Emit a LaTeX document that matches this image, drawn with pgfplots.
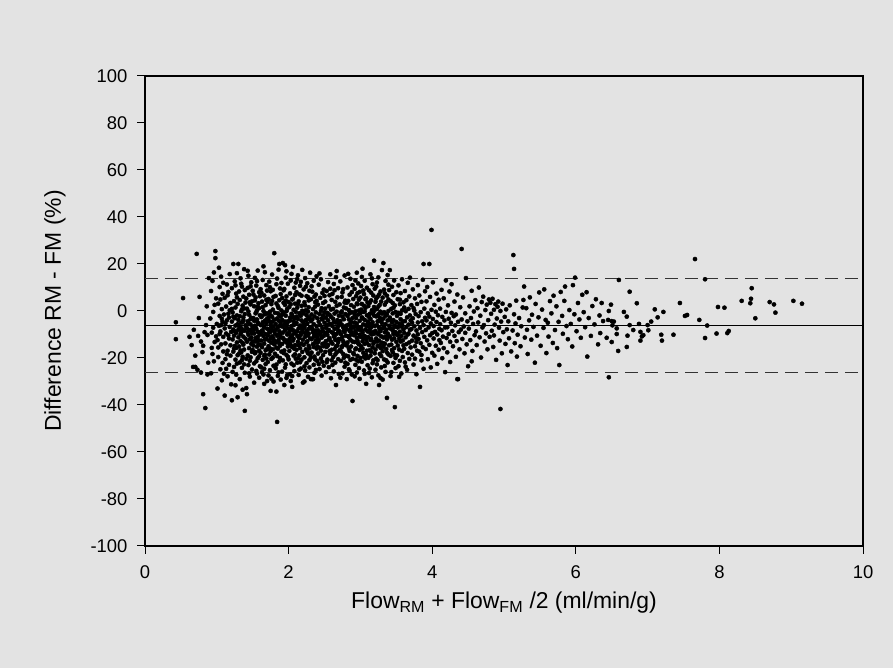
\documentclass[border=0pt]{standalone}
\usepackage{fontspec}
\setmainfont{Liberation Sans}
\usepackage{pgfplots}
\pgfplotsset{compat=1.18}
\definecolor{bgc}{RGB}{227,227,227}
\begin{document}
\begin{tikzpicture}[x=1bp,y=1bp]
\fill[bgc] (0,0) rectangle (893,668);
\begin{axis}[
  at={(145bp,122bp)}, anchor=south west,
  scale only axis, width=718bp, height=470bp,
  xmin=0, xmax=10, ymin=-100, ymax=100,
  xtick={0,2,4,6,8,10}, ytick={-100,-80,-60,-40,-20,0,20,40,60,80,100},
  xtick pos=bottom, ytick pos=left,
  tick align=outside, major tick length=8bp,
  tick style={black, line width=1bp},
  axis line style={black, line width=1.2bp},
  ticklabel style={font=\fontsize{18.5}{21}\selectfont},
  yticklabel style={xshift=-6bp},
  xticklabel style={yshift=-8bp},
  /pgf/number format/assume math mode=true,
  xlabel={Flow\textsubscript{RM} + Flow\textsubscript{FM} /2 (ml/min/g)},
  ylabel={Difference RM - FM (\%)},
  label style={font=\fontsize{23}{27}\selectfont},
  xlabel style={at={(axis description cs:0.5,-0.1330)}, anchor=base},
  ylabel style={at={(axis description cs:-0.1253,0.5)}, anchor=center},
  clip=true,
]
\addplot[black, line width=0.9bp] coordinates {(0,-6.2) (10,-6.2)};
\addplot[black!80, line width=1.2bp, dash pattern=on 13bp off 7bp] coordinates {(0,13.8) (10,13.8)};
\addplot[black!80, line width=1.2bp, dash pattern=on 13bp off 7bp] coordinates {(0,-26.2) (10,-26.2)};
\addplot[only marks, mark=*, mark size=2.1bp, mark options={draw=none, fill=black}] coordinates {
(0.43,-4.8) (0.43,-12) (0.53,5.5) (0.65,-14.5) (0.67,-23.8) (0.72,24.3) (0.81,-35.4) (0.84,-41.3) (0.62,-11) (0.70,-19) (0.68,-8) (0.75,-3) (0.78,-13) (0.80,-17.5) (0.73,-25) (0.83,-9) (0.86,2) (0.88,-22) (0.76,6) (0.85,-6) (0.89,14) (0.87,-27)
(0.74,-10.6) (0.81,-14.8) (0.70,-23.8) (0.78,-26.2) (0.87,-10.2)
(0.91,-3.2) (0.92,8.5) (0.93,-15.7) (0.94,12.8) (0.95,-7.1) (0.96,-21.4) (0.97,2.6) (0.98,22.5) (0.98,25.5) (0.99,-10.8) (0.95,-0.4) (0.92,-26.5) (0.97,-13.2) (0.99,5.4) (0.94,-18.3) (1.00,-5.5) (0.96,16.4) (0.93,-9.2)
(1.01,-12.4) (1.02,3.1) (1.02,-19.6) (1.03,-6.3) (1.04,10.2) (1.04,-2.1) (1.05,-24.8) (1.05,-8.7) (1.06,14.6) (1.06,-14.2) (1.07,0.8) (1.07,-29.5) (1.08,-4.6) (1.08,7.3) (1.09,-11.0) (1.09,-17.2) (1.10,-1.5) (1.03,18.4) (1.01,-33.0) (1.05,4.9) (1.08,-22.1) (1.04,-9.8) (1.06,-6.0) (1.09,12.0) (1.02,-15.5) (1.07,-3.3) (1.10,-26.7)
(1.11,-7.4) (1.11,5.6) (1.12,-13.8) (1.12,-20.5) (1.13,1.9) (1.13,-9.6) (1.14,11.3) (1.14,-4.0) (1.15,-16.9) (1.15,-27.8) (1.16,8.1) (1.16,-1.2) (1.17,-11.7) (1.17,-22.9) (1.18,15.7) (1.18,-6.8) (1.19,3.4) (1.19,-14.6) (1.20,-8.9) (1.20,-31.2) (1.12,-5.3) (1.14,-18.4) (1.16,-10.3) (1.18,0.3) (1.13,-24.6) (1.15,6.7) (1.17,-2.8) (1.19,-19.0) (1.11,-36.0) (1.21,-38.0)
(1.21,-4.5) (1.21,9.7) (1.22,-12.1) (1.22,-0.6) (1.23,20.0) (1.23,-7.9) (1.23,-17.3) (1.24,4.2) (1.24,-10.5) (1.24,-23.8) (1.25,12.6) (1.25,-3.1) (1.25,-14.9) (1.26,-6.2) (1.26,1.5) (1.26,-20.7) (1.27,7.4) (1.27,-9.3) (1.27,-27.1) (1.28,-1.9) (1.28,-13.4) (1.28,16.1) (1.29,-5.6) (1.29,-18.8) (1.29,3.0) (1.30,20.0) (1.30,-11.2) (1.30,-8.0) (1.22,-25.9) (1.24,-16.0) (1.26,10.9) (1.28,-22.4) (1.23,-2.4) (1.25,-8.6) (1.27,-15.7) (1.29,-36.7) (1.21,0.9) (1.26,-31.6) (1.28,5.8) (1.30,-3.8)
(1.31,-6.5) (1.31,8.3) (1.31,-15.1) (1.32,-2.2) (1.32,-21.9) (1.32,4.7) (1.33,-9.9) (1.33,13.9) (1.33,-12.8) (1.34,-0.1) (1.34,-17.6) (1.34,-5.0) (1.35,10.4) (1.35,-24.2) (1.35,-7.7) (1.36,2.3) (1.36,-13.6) (1.36,-19.5) (1.37,6.1) (1.37,-3.9) (1.37,-10.9) (1.38,17.8) (1.38,-8.4) (1.38,-16.4) (1.39,-42.5) (1.39,-1.3) (1.39,-26.3) (1.40,3.6) (1.40,-11.8) (1.32,-29.0) (1.34,11.6) (1.36,-4.7) (1.38,-22.7) (1.33,-6.9) (1.35,0.7) (1.37,-14.3) (1.39,8.9) (1.31,-18.1) (1.40,-6.1) (1.36,-33.5) (1.34,-9.1) (1.38,1.1) (1.33,-16.8) (1.35,-20.9) (1.37,-2.7)
(1.41,-7.2) (1.41,5.3) (1.41,-32.8) (1.42,-35.4) (1.42,-13.1) (1.42,1.0) (1.43,-18.9) (1.43,9.8) (1.43,-4.4) (1.44,-10.1) (1.44,15.0) (1.44,-23.0) (1.45,-1.6) (1.45,-15.8) (1.45,6.9) (1.46,-8.1) (1.46,-12.0) (1.46,-27.9) (1.47,2.8) (1.47,-5.7) (1.47,-19.7) (1.48,12.2) (1.48,-2.9) (1.48,-14.0) (1.49,-9.4) (1.49,4.1) (1.49,-24.9) (1.50,-6.7) (1.50,-16.6) (1.50,8.6) (1.42,-7.3) (1.44,-0.2) (1.46,-21.2) (1.48,-11.2) (1.43,17.1) (1.45,-26.5) (1.47,-3.5) (1.49,-17.4) (1.41,-20.3) (1.46,3.7) (1.48,-7.9) (1.50,-12.9) (1.44,-5.1) (1.47,10.5) (1.43,-9.0)
(1.51,-3.0) (1.51,-14.7) (1.51,7.0) (1.52,-9.6) (1.52,-22.3) (1.52,2.0) (1.53,14.1) (1.53,-6.3) (1.53,-18.0) (1.54,-1.0) (1.54,-11.5) (1.54,5.8) (1.55,-25.5) (1.55,-7.6) (1.55,10.8) (1.56,-15.2) (1.56,-3.6) (1.56,0.4) (1.57,-20.1) (1.57,-8.8) (1.57,17.2) (1.58,-12.4) (1.58,3.3) (1.58,-5.4) (1.59,-28.4) (1.59,-16.9) (1.59,8.0) (1.60,-10.0) (1.60,-1.8) (1.60,-23.5) (1.52,-4.2) (1.54,-17.5) (1.56,12.7) (1.58,-9.0) (1.53,-13.0) (1.55,-0.5) (1.57,-4.9) (1.59,-19.3) (1.51,-8.1) (1.53,4.5) (1.55,-21.4) (1.57,-11.0) (1.59,1.2) (1.52,-30.5) (1.54,-6.9) (1.56,-26.6) (1.58,-14.1) (1.60,6.3) (1.55,-12.8) (1.57,1.9)
(1.61,-6.0) (1.61,-17.8) (1.61,9.3) (1.62,-2.6) (1.62,-12.6) (1.62,-24.0) (1.63,4.0) (1.63,-8.3) (1.63,-15.4) (1.64,13.2) (1.64,-4.8) (1.64,-20.8) (1.65,0.0) (1.65,-10.7) (1.65,-27.0) (1.66,6.6) (1.66,-7.0) (1.66,-13.9) (1.67,-1.4) (1.67,-18.6) (1.67,16.5) (1.68,-9.8) (1.68,2.5) (1.68,-22.6) (1.69,-5.2) (1.69,-11.9) (1.69,11.0) (1.70,-16.2) (1.70,-3.3) (1.70,-29.8) (1.62,7.8) (1.64,-8.7) (1.66,-19.1) (1.68,-0.9) (1.63,-26.0) (1.65,-6.4) (1.67,-12.2) (1.69,4.8) (1.61,-14.5) (1.64,1.6) (1.66,-24.6) (1.68,-16.7) (1.70,-7.5) (1.62,-9.5) (1.65,19.0) (1.67,-4.1) (1.69,-20.2) (1.63,-2.0) (1.66,-31.0) (1.70,8.7)
(1.71,-10.4) (1.71,-1.1) (1.71,-21.7) (1.72,5.1) (1.72,-7.8) (1.72,-15.0) (1.73,12.5) (1.73,-4.3) (1.73,-12.7) (1.74,-25.2) (1.74,-0.3) (1.74,-9.1) (1.75,8.4) (1.75,-17.1) (1.75,-5.9) (1.76,-13.5) (1.76,2.9) (1.76,-28.8) (1.77,-2.5) (1.77,-8.2) (1.77,15.5) (1.78,-19.8) (1.78,-11.3) (1.78,0.6) (1.79,-6.6) (1.79,6.0) (1.79,-23.3) (1.80,-14.2) (1.80,-3.7) (1.80,24.6) (1.72,-27.4) (1.74,10.1) (1.76,-6.8) (1.78,-16.3) (1.73,-18.5) (1.75,-1.9) (1.77,-10.8) (1.79,-30.0) (1.71,3.9) (1.73,-8.9) (1.75,-34.0) (1.77,4.3) (1.79,-12.1) (1.72,-2.8) (1.74,-15.9) (1.76,-20.4) (1.78,9.0) (1.80,-8.5) (1.75,-11.6) (1.77,-4.6)
(1.81,-9.7) (1.81,-0.8) (1.81,-18.2) (1.82,6.4) (1.82,-13.3) (1.82,-5.5) (1.83,-34.3) (1.83,11.4) (1.83,-22.8) (1.84,-47.2) (1.84,-3.2) (1.84,-10.6) (1.85,2.1) (1.85,-16.0) (1.85,-7.0) (1.86,17.6) (1.86,-26.1) (1.86,-12.3) (1.87,-1.7) (1.87,-8.6) (1.87,4.6) (1.88,-20.0) (1.88,-14.8) (1.88,9.6) (1.89,-4.9) (1.89,-11.1) (1.89,-29.2) (1.90,0.2) (1.90,-17.3) (1.90,-6.5) (1.82,-24.4) (1.84,13.8) (1.86,-4.0) (1.88,-9.9) (1.83,-15.6) (1.85,-1.0) (1.87,-21.5) (1.89,7.2) (1.81,-12.9) (1.83,3.2) (1.85,-27.6) (1.87,-13.7) (1.89,-2.3) (1.82,-8.0) (1.84,-19.2) (1.86,1.3) (1.88,-6.1) (1.90,11.9) (1.85,-10.2) (1.87,20.0)
(1.91,-3.8) (1.91,-14.0) (1.91,5.5) (1.92,20.4) (1.92,-9.2) (1.92,-21.0) (1.93,-0.7) (1.93,-11.9) (1.93,8.8) (1.94,-31.5) (1.94,-5.8) (1.94,-16.8) (1.95,2.6) (1.95,-8.4) (1.95,-24.1) (1.96,14.2) (1.96,-2.0) (1.96,-12.5) (1.97,-18.7) (1.97,-6.9) (1.97,6.2) (1.98,-10.0) (1.98,-27.3) (1.98,0.9) (1.99,-4.4) (1.99,-15.1) (1.99,11.6) (2.00,-7.5) (2.00,-20.6) (2.00,3.8) (1.92,-1.4) (1.94,9.4) (1.96,-22.7) (1.98,-13.6) (1.93,-17.9) (1.95,-4.5) (1.97,16.9) (1.99,-9.7) (1.91,-25.8) (1.93,3.5) (1.95,-13.0) (1.97,-0.1) (1.99,-19.5) (1.92,-11.4) (1.94,-7.1) (1.96,4.4) (1.98,-5.2) (2.00,-12.7) (1.95,19.5) (1.97,-28.5)
(2.01,-9.0) (2.01,1.7) (2.01,-17.0) (2.02,7.5) (2.02,-4.1) (2.02,-13.8) (2.03,-29.8) (2.03,-10.9) (2.03,13.0) (2.04,-1.2) (2.04,-22.4) (2.04,-6.4) (2.05,-32.3) (2.05,4.9) (2.05,-15.4) (2.06,-8.1) (2.06,-2.6) (2.06,18.8) (2.07,-19.0) (2.07,-11.8) (2.07,0.5) (2.08,9.9) (2.08,-5.7) (2.08,-25.6) (2.09,-14.5) (2.09,-3.0) (2.09,6.8) (2.10,-8.8) (2.10,-20.3) (2.10,-0.4) (2.02,-26.9) (2.04,15.8) (2.06,-12.6) (2.08,-16.1) (2.03,-7.7) (2.05,-1.9) (2.07,-23.1) (2.09,3.1) (2.01,-12.0) (2.03,2.9) (2.05,-10.3) (2.07,-6.0) (2.09,-18.4) (2.02,-2.8) (2.04,-14.9) (2.06,5.2) (2.08,-9.4) (2.10,12.1) (2.05,-27.7) (2.07,-4.3)
(2.11,-5.1) (2.11,-16.5) (2.11,8.0) (2.12,-10.5) (2.12,1.4) (2.12,-22.0) (2.13,-3.4) (2.13,-13.1) (2.13,15.2) (2.14,-7.4) (2.14,-27.2) (2.14,4.1) (2.15,-0.9) (2.15,-18.9) (2.15,-11.5) (2.16,10.7) (2.16,-6.2) (2.16,-15.8) (2.17,-24.5) (2.17,-2.1) (2.17,-9.3) (2.18,6.5) (2.18,-13.9) (2.18,-20.7) (2.19,0.1) (2.19,-7.9) (2.19,17.5) (2.20,-30.5) (2.20,-4.7) (2.20,-12.2) (2.12,-8.6) (2.14,-14.6) (2.16,-1.5) (2.18,-4.0) (2.13,3.0) (2.15,-25.0) (2.17,12.4) (2.19,-17.4) (2.11,-2.4) (2.13,-20.1) (2.15,7.1) (2.17,-10.2) (2.19,-6.7) (2.12,13.6) (2.14,-11.3) (2.16,-21.8) (2.18,2.2) (2.20,-9.1)
(2.21,-14.4) (2.21,-1.0) (2.21,9.2) (2.22,-7.1) (2.22,-19.7) (2.22,3.7) (2.23,-11.0) (2.23,-25.3) (2.23,14.0) (2.24,-3.9) (2.24,-16.3) (2.24,0.3) (2.25,-8.5) (2.25,6.3) (2.25,-22.2) (2.26,-12.9) (2.26,-5.3) (2.26,11.8) (2.27,-18.0) (2.27,-0.2) (2.27,-28.0) (2.28,-9.6) (2.28,4.5) (2.28,-14.8) (2.29,-2.7) (2.29,-20.9) (2.29,8.6) (2.30,-6.9) (2.30,-11.7) (2.30,16.3) (2.22,-30.0) (2.24,-9.8) (2.26,-17.2) (2.28,1.6) (2.23,-5.9) (2.25,-13.3) (2.27,5.9) (2.29,-24.0) (2.21,-6.3) (2.23,2.4) (2.25,-1.8) (2.27,-10.4) (2.29,-15.9) (2.22,-23.6) (2.24,10.3) (2.26,-3.5) (2.28,-7.6) (2.30,-18.6)
(2.31,-4.3) (2.31,-29.0) (2.31,5.0) (2.32,-12.0) (2.32,-1.5) (2.32,-17.7) (2.33,-29.0) (2.33,8.2) (2.33,-7.8) (2.34,-29.0) (2.34,-14.1) (2.34,0.8) (2.35,-22.9) (2.35,-5.6) (2.35,12.9) (2.36,-10.2) (2.36,-2.3) (2.36,-19.4) (2.37,3.8) (2.37,-13.5) (2.37,-8.3) (2.38,-25.1) (2.38,7.0) (2.38,-0.6) (2.39,-16.0) (2.39,-6.5) (2.39,14.8) (2.40,-11.2) (2.40,-3.1) (2.40,-21.3) (2.32,10.5) (2.34,-9.1) (2.36,-26.3) (2.38,-12.6) (2.33,-3.6) (2.35,-15.3) (2.37,1.9) (2.39,-9.8) (2.31,-19.8) (2.35,-11.0) (2.37,-20.6) (2.39,4.3) (2.32,-6.9) (2.36,6.1) (2.40,-15.0)
(2.41,-8.2) (2.41,2.7) (2.41,-18.1) (2.42,-4.6) (2.42,-12.4) (2.42,11.2) (2.43,-24.7) (2.43,-1.3) (2.43,-9.5) (2.44,5.6) (2.44,-15.6) (2.44,-6.0) (2.45,-20.2) (2.45,0.0) (2.45,13.5) (2.46,-11.4) (2.46,-3.2) (2.46,-27.5) (2.47,7.7) (2.47,-14.0) (2.47,-7.3) (2.48,-1.9) (2.48,-18.8) (2.48,3.4) (2.49,-10.6) (2.49,-23.3) (2.49,9.1) (2.50,-5.0) (2.50,-13.7) (2.50,-0.5) (2.42,-22.6) (2.44,-10.1) (2.46,1.2) (2.48,-8.7) (2.43,16.0) (2.45,-16.9) (2.47,-3.6) (2.49,-15.0) (2.41,-13.2) (2.45,-8.9) (2.47,-21.6) (2.50,6.4)
(2.51,-9.3) (2.51,-17.4) (2.51,4.0) (2.52,-2.9) (2.52,-12.8) (2.52,-26.0) (2.53,8.5) (2.53,-6.1) (2.53,-15.3) (2.54,-0.8) (2.54,-20.7) (2.54,-10.2) (2.55,12.3) (2.55,-4.0) (2.55,-14.4) (2.56,2.0) (2.56,-8.0) (2.56,-23.9) (2.57,-1.6) (2.57,-11.6) (2.57,6.7) (2.58,-18.2) (2.58,-5.5) (2.58,15.6) (2.59,-13.0) (2.59,-28.6) (2.59,-2.5) (2.60,-9.0) (2.60,4.7) (2.60,-16.5) (2.52,-7.2) (2.54,-1.4) (2.56,-12.1) (2.58,9.5) (2.53,-21.8) (2.55,-8.6) (2.57,-17.0) (2.59,0.6) (2.51,1.0) (2.54,-14.9) (2.56,-5.8) (2.60,-21.0)
(2.61,-6.4) (2.61,-13.9) (2.61,7.3) (2.62,-3.3) (2.62,-19.6) (2.62,0.9) (2.63,-10.8) (2.63,-25.7) (2.63,11.5) (2.64,-7.6) (2.64,-1.1) (2.64,-16.2) (2.65,3.9) (2.65,-12.3) (2.65,-22.0) (2.66,-31.5) (2.66,-5.0) (2.66,14.4) (2.67,-9.7) (2.67,-17.6) (2.67,-0.3) (2.68,5.8) (2.68,-14.7) (2.68,-3.9) (2.69,-20.5) (2.69,-8.2) (2.69,9.7) (2.70,-11.9) (2.70,-2.0) (2.70,-26.8) (2.62,-9.4) (2.64,8.8) (2.66,-15.0) (2.68,-6.9) (2.63,-4.7) (2.65,-18.5) (2.67,2.2) (2.69,-13.3) (2.61,-23.0) (2.64,-11.0) (2.67,17.0) (2.70,-6.1)
(2.71,-8.7) (2.71,2.8) (2.71,-16.7) (2.72,-4.3) (2.72,-12.0) (2.72,12.6) (2.73,-21.2) (2.73,-0.7) (2.73,-9.9) (2.74,6.0) (2.74,-15.4) (2.74,-5.8) (2.75,-26.5) (2.75,-2.4) (2.75,-11.1) (2.76,9.3) (2.76,-7.0) (2.76,-18.3) (2.77,1.5) (2.77,-13.6) (2.77,-3.5) (2.78,-23.7) (2.78,-8.9) (2.78,15.1) (2.79,-1.3) (2.79,-14.3) (2.79,4.4) (2.80,-19.0) (2.80,-6.3) (2.80,-10.5) (2.72,-28.4) (2.74,-0.2) (2.76,-12.8) (2.78,3.6) (2.73,-17.2) (2.75,7.9) (2.77,-8.4) (2.79,-22.0) (2.71,-5.2) (2.75,-14.8) (2.77,-19.9) (2.80,1.1)
(2.81,-29.0) (2.81,-7.7) (2.81,3.5) (2.82,-13.4) (2.82,-2.1) (2.82,10.0) (2.83,-19.3) (2.83,-5.9) (2.83,-10.7) (2.84,0.4) (2.84,-16.0) (2.84,-24.8) (2.85,6.9) (2.85,-8.5) (2.85,-1.0) (2.86,-12.2) (2.86,13.7) (2.86,-20.8) (2.87,-4.6) (2.87,-15.1) (2.87,2.5) (2.88,-9.1) (2.88,-27.0) (2.88,8.0) (2.89,-38.3) (2.89,-3.0) (2.89,-13.0) (2.90,-17.9) (2.90,5.1) (2.90,-6.6) (2.82,-22.5) (2.84,-11.2) (2.86,-5.3) (2.88,-0.5) (2.83,4.3) (2.85,-17.0) (2.87,-10.0) (2.89,11.0) (2.81,-14.7) (2.83,15.8) (2.85,-25.5) (2.87,-7.2) (2.89,-20.4) (2.84,-3.6) (2.86,-8.0)
(2.91,-10.3) (2.91,1.8) (2.91,-18.4) (2.92,-4.9) (2.92,9.4) (2.92,-13.2) (2.93,-0.1) (2.93,-22.9) (2.93,-8.6) (2.94,6.3) (2.94,-15.9) (2.94,-3.0) (2.95,16.3) (2.95,-11.4) (2.95,-26.2) (2.96,-6.7) (2.96,2.9) (2.96,-19.1) (2.97,-1.5) (2.97,-13.8) (2.97,11.7) (2.98,-8.0) (2.98,-24.3) (2.98,4.8) (2.99,-16.6) (2.99,-4.2) (2.99,8.1) (3.00,-11.0) (3.00,-0.9) (3.00,-20.0) (2.92,-27.8) (2.94,-9.6) (2.96,-12.7) (2.98,0.2) (2.93,13.0) (2.95,-5.4) (2.97,-21.4) (2.99,-10.1) (2.91,-7.1) (2.93,-16.3) (2.95,3.2) (2.97,-7.5) (2.99,-28.9) (2.92,-1.6) (2.94,-20.7) (2.96,7.6) (2.98,-14.2) (3.00,5.7)
(3.01,-6.8) (3.01,-15.0) (3.01,10.6) (3.02,-2.7) (3.02,-21.6) (3.02,3.0) (3.03,-9.2) (3.03,-12.9) (3.03,18.0) (3.04,-0.4) (3.04,-17.8) (3.04,-5.7) (3.05,7.2) (3.05,-25.3) (3.05,-10.6) (3.06,-3.8) (3.06,12.9) (3.06,-14.0) (3.07,-7.9) (3.07,1.3) (3.07,-20.2) (3.08,-31.0) (3.08,-12.1) (3.08,5.4) (3.09,-1.8) (3.09,-16.9) (3.09,9.9) (3.10,-8.7) (3.10,-23.1) (3.10,-4.5) (3.02,14.5) (3.04,-11.5) (3.06,-26.7) (3.08,-6.2) (3.03,-3.1) (3.05,-19.4) (3.07,5.0) (3.09,-13.6) (3.01,0.6) (3.03,-16.0) (3.05,2.2) (3.07,-10.9) (3.09,-6.0) (3.02,-8.3) (3.04,8.7) (3.06,-0.2) (3.08,-18.7) (3.10,3.6)
(3.11,-11.1) (3.11,2.1) (3.11,-19.9) (3.12,-5.3) (3.12,-14.5) (3.12,8.8) (3.13,-1.2) (3.13,-24.5) (3.13,-8.1) (3.14,15.6) (3.14,-12.4) (3.14,-3.4) (3.15,4.5) (3.15,-17.3) (3.15,-7.0) (3.16,-28.2) (3.16,0.3) (3.16,-10.0) (3.17,11.4) (3.17,-15.5) (3.17,-4.8) (3.18,-21.0) (3.18,6.6) (3.18,-8.9) (3.19,21.4) (3.19,-13.1) (3.19,-2.0) (3.20,-6.4) (3.20,-18.0) (3.20,9.5) (3.12,-26.4) (3.14,-9.4) (3.16,13.9) (3.18,-0.6) (3.13,3.5) (3.15,-11.9) (3.17,-22.2) (3.19,1.7) (3.11,-6.6) (3.13,-16.7) (3.15,7.8) (3.17,-1.0) (3.19,-9.7) (3.12,-2.5) (3.14,-19.0) (3.16,-5.5) (3.18,-13.9) (3.20,0.5)
(3.21,-8.5) (3.21,3.9) (3.21,-16.4) (3.22,-2.3) (3.22,-11.7) (3.22,10.4) (3.23,-22.7) (3.23,-6.0) (3.23,0.8) (3.24,-14.9) (3.24,6.1) (3.24,-9.5) (3.25,-1.4) (3.25,-27.4) (3.25,14.3) (3.26,-31.5) (3.26,-4.2) (3.26,-12.6) (3.27,2.6) (3.27,-18.3) (3.27,-7.7) (3.28,8.3) (3.28,-0.3) (3.28,-15.7) (3.29,-10.8) (3.29,-24.0) (3.29,4.0) (3.30,-5.1) (3.30,-13.5) (3.30,17.4) (3.22,-20.3) (3.24,-4.4) (3.26,7.0) (3.28,-8.6) (3.23,12.1) (3.25,-9.9) (3.27,-2.9) (3.29,-19.2) (3.21,-25.0) (3.23,-13.0) (3.25,1.9) (3.27,-14.6) (3.29,-3.7) (3.22,5.3) (3.24,-20.9) (3.26,-7.1) (3.28,-28.5) (3.30,-1.1)
(3.31,-7.3) (3.31,-17.1) (3.31,5.7) (3.32,20.4) (3.32,-3.2) (3.32,-11.3) (3.33,9.1) (3.33,-20.6) (3.33,-0.5) (3.34,-9.1) (3.34,-14.0) (3.34,2.7) (3.35,-5.6) (3.35,-25.9) (3.35,12.8) (3.36,-1.7) (3.36,-16.2) (3.36,-8.0) (3.37,-37.0) (3.37,6.5) (3.37,-12.1) (3.38,-4.0) (3.38,-21.9) (3.38,15.3) (3.39,-10.4) (3.39,0.0) (3.39,-18.5) (3.40,-6.3) (3.40,8.9) (3.40,-14.6) (3.32,-15.2) (3.34,-23.4) (3.36,3.8) (3.38,-9.6) (3.33,-6.7) (3.35,-11.0) (3.37,-1.3) (3.39,4.9) (3.31,-29.2) (3.33,-13.8) (3.35,-2.0) (3.37,-17.7) (3.39,11.2) (3.34,7.5) (3.36,-21.0)
(3.41,17.4) (3.41,-2.8) (3.41,-10.9) (3.42,-19.1) (3.42,4.2) (3.42,-7.5) (3.43,-14.3) (3.43,0.9) (3.43,-26.0) (3.44,10.3) (3.44,-5.0) (3.44,-12.2) (3.45,-1.0) (3.45,-17.5) (3.45,-8.4) (3.46,6.8) (3.46,-22.1) (3.46,-3.9) (3.47,-11.6) (3.47,13.0) (3.47,-15.8) (3.48,-40.9) (3.48,-6.2) (3.48,2.4) (3.49,-9.0) (3.49,-20.0) (3.49,-0.4) (3.50,-13.1) (3.50,8.0) (3.50,-4.7) (3.42,-27.7) (3.44,-16.6) (3.46,-9.8) (3.48,-18.7) (3.43,-4.1) (3.45,3.4) (3.47,-6.9) (3.49,-24.3) (3.41,-7.2) (3.46,1.4)
(3.51,-10.0) (3.51,-2.1) (3.51,-18.9) (3.52,5.0) (3.52,-14.7) (3.52,-7.0) (3.53,-23.5) (3.53,-0.8) (3.53,10.9) (3.54,-11.8) (3.54,-5.4) (3.54,-16.4) (3.55,2.9) (3.55,-8.8) (3.55,-21.2) (3.56,-3.5) (3.56,-13.0) (3.56,7.6) (3.57,-26.6) (3.57,-6.6) (3.57,-10.6) (3.58,0.3) (3.58,-17.0) (3.58,13.5) (3.59,-4.5) (3.59,-12.5) (3.59,-19.6) (3.60,-7.8) (3.60,3.7) (3.52,-10.2) (3.54,-28.0) (3.56,-1.2) (3.58,-6.0) (3.60,-14.6) (3.55,4.8)
(3.61,-9.3) (3.61,1.5) (3.61,-16.1) (3.62,-4.3) (3.62,-21.9) (3.62,8.5) (3.63,-11.2) (3.63,-0.1) (3.64,-14.1) (3.64,-6.8) (3.64,4.6) (3.65,-25.0) (3.65,-2.7) (3.66,-10.0) (3.66,12.0) (3.66,-17.9) (3.67,-5.8) (3.67,0.9) (3.68,-13.4) (3.68,-20.4) (3.68,6.2) (3.69,-8.0) (3.69,-1.9) (3.70,-15.5) (3.70,-4.0) (3.63,-23.7) (3.67,-9.6) (3.69,14.2)
(3.71,-7.7) (3.71,2.5) (3.72,-12.6) (3.72,-18.6) (3.73,-3.1) (3.73,9.2) (3.74,-10.5) (3.74,-22.8) (3.75,0.2) (3.75,-6.5) (3.76,-15.0) (3.76,5.4) (3.77,-1.3) (3.77,-11.4) (3.78,-26.9) (3.78,-8.3) (3.79,3.0) (3.79,-16.9) (3.80,-4.9) (3.80,11.0) (3.72,-5.0) (3.74,1.2) (3.76,-20.3) (3.78,-13.2) (3.80,-9.9)
(3.81,-11.9) (3.81,-2.2) (3.82,6.6) (3.82,-17.3) (3.83,-32.3) (3.83,-7.2) (3.84,-0.5) (3.84,-13.7) (3.85,-21.0) (3.85,3.9) (3.86,-9.0) (3.86,-4.4) (3.87,13.3) (3.87,-15.4) (3.88,20.0) (3.88,-6.0) (3.88,-24.6) (3.89,1.0) (3.89,-11.0) (3.90,-2.9) (3.85,-18.7) (3.90,8.4)
(3.91,-8.1) (3.91,-16.2) (3.92,4.1) (3.92,-4.0) (3.93,-12.5) (3.93,10.2) (3.94,-20.5) (3.94,-1.0) (3.95,-7.0) (3.96,20.0) (3.96,-14.4) (3.96,-2.4) (3.97,6.0) (3.97,-10.3) (3.98,-24.0) (3.98,-5.3) (3.99,34.5) (3.99,0.5) (4.00,-9.4) (4.00,-17.8)
(4.01,-3.4) (4.01,12.2) (4.02,-11.7) (4.02,-6.4) (4.03,2.6) (4.03,-19.0) (4.04,-8.9) (4.05,-0.3) (4.05,-14.8) (4.06,7.4) (4.06,-4.7) (4.07,-22.5) (4.07,-10.0) (4.08,-1.8) (4.09,-16.5) (4.09,4.8) (4.10,-7.6) (4.10,-12.4)
(4.11,-5.6) (4.11,1.0) (4.12,-13.6) (4.13,9.0) (4.13,-8.2) (4.14,-20.1) (4.14,-2.5) (4.15,-10.9) (4.16,5.4) (4.16,-15.8) (4.17,-4.0) (4.18,-26.0) (4.18,-7.0) (4.19,-0.4) (4.19,13.0) (4.20,-11.5)
(4.21,-6.9) (4.21,-17.6) (4.22,2.4) (4.23,-9.8) (4.23,-3.3) (4.24,8.3) (4.25,-13.1) (4.25,-21.7) (4.26,-5.0) (4.27,-0.8) (4.27,11.4) (4.28,-8.5) (4.29,-15.0) (4.30,-2.2)
(4.31,-10.6) (4.31,4.0) (4.32,-6.1) (4.33,-19.5) (4.33,-1.5) (4.34,-12.8) (4.35,-29.0) (4.35,7.0) (4.36,-4.6) (4.36,-29.0) (4.37,-9.0) (4.38,-16.3) (4.39,1.6) (4.40,-7.9)
(4.41,26.4) (4.41,-3.6) (4.42,-11.9) (4.43,5.8) (4.44,-6.6) (4.45,-18.0) (4.46,-1.0) (4.46,-9.3) (4.47,14.0) (4.48,-14.2) (4.49,-4.4) (4.50,-23.5)
(4.51,-7.5) (4.52,2.0) (4.53,-12.4) (4.54,-3.0) (4.55,8.6) (4.56,-17.0) (4.57,-5.5) (4.58,-0.2) (4.59,-10.3) (4.60,4.6) (4.55,-21.4)
(4.61,-8.7) (4.62,-14.5) (4.63,1.2) (4.64,-4.9) (4.65,10.0) (4.66,-11.2) (4.67,-2.0) (4.68,-19.8) (4.69,3.8) (4.70,-7.0)
(4.71,6.1) (4.72,-6.0) (4.73,-13.0) (4.74,0.4) (4.75,-9.5) (4.76,2.7) (4.77,-16.3) (4.78,-3.9) (4.79,4.9) (4.80,-11.0)
(4.81,3.5) (4.82,-1.2) (4.83,-8.4) (4.84,5.2) (4.85,-15.3) (4.86,0.5) (4.87,-5.8) (4.88,2.9) (4.89,-20.8) (4.90,-3.2) (4.86,-10.4)
(4.91,1.8) (4.92,4.0) (4.93,-7.1) (4.94,-12.6) (4.95,-41.7) (4.95,0.0) (4.96,-4.5) (4.97,-18.0) (4.98,3.1) (4.99,-9.0)
(5.01,-2.5) (5.02,-14.0) (5.03,0.7) (5.04,-7.8) (5.05,-23.0) (5.06,-4.4) (5.07,-11.6) (5.08,2.4) (5.10,-17.2)
(5.12,-8.3) (5.13,23.8) (5.14,17.9) (5.14,-1.4) (5.15,-13.7) (5.16,-5.3) (5.17,4.4) (5.18,-19.4) (5.19,-10.1)
(5.21,-3.0) (5.23,-15.0) (5.24,-6.5) (5.26,1.5) (5.27,4.7) (5.28,10.4) (5.29,-11.3)
(5.31,1.2) (5.32,-8.0) (5.33,-18.3) (5.35,-4.0) (5.36,5.8) (5.38,-12.2) (5.39,-1.6)
(5.41,-6.8) (5.43,-22.0) (5.44,3.0) (5.46,-10.5) (5.48,-2.7) (5.49,7.9)
(5.51,-14.8) (5.53,0.6) (5.55,-7.2) (5.56,9.2) (5.58,-3.8) (5.59,-17.9)
(5.61,-5.0) (5.62,-10.9) (5.64,4.2) (5.66,-1.0) (5.68,-13.6) (5.69,6.5)
(5.71,-8.1) (5.73,2.0) (5.74,-15.8) (5.76,-4.6) (5.77,-23.0) (5.79,8.1)
(5.81,-2.1) (5.82,-9.7) (5.84,4.3) (5.85,10.4) (5.87,-6.4) (5.89,-12.0)
(5.91,0.4) (5.93,-5.5) (5.95,-15.1) (5.96,11.0) (5.98,-1.4) (5.99,14.2)
(6.01,-8.6) (6.03,3.4) (6.05,-3.6) (6.07,-11.4) (6.09,6.9)
(6.11,-0.5) (6.13,-6.9) (6.15,8.0) (6.16,-19.4) (6.18,-3.0)
(6.21,-10.6) (6.23,2.1) (6.26,-5.7) (6.28,5.0)
(6.31,-14.2) (6.33,-1.9) (6.34,-9.4) (6.36,3.4) (6.38,-4.3)
(6.43,-11.4) (6.45,-3.8) (6.46,0.0) (6.46,-28.2) (6.49,2.7) (6.50,-4.3) (6.50,-13.2) (6.51,-6.1) (6.53,-4.5) (6.57,-7.4) (6.57,-9.8) (6.59,-17.0) (6.60,13.2) (6.67,-0.4) (6.71,-2.4) (6.71,-15.3) (6.72,-10.5) (6.75,8.2) (6.75,-6.0) (6.80,-8.1) (6.85,3.3) (6.88,-5.5) (6.90,-8.9) (6.90,-12.6) (6.92,-10.8) (6.94,-10.3) (7.00,-6.0) (7.01,-8.2) (7.05,-4.5) (7.10,0.7) (7.14,-2.7) (7.19,-10.1) (7.20,-12.6) (7.22,-0.4) (7.36,-10.1) (7.45,3.4) (7.52,-2.1) (7.55,-1.7) (7.66,22.1) (7.72,-3.8) (7.80,13.5) (7.80,-11.5) (7.83,-6.2) (7.96,-9.6) (7.98,1.7) (8.07,1.4) (8.11,-9.4) (8.13,-8.5) (8.31,4.3) (8.43,3.3) (8.44,5.2) (8.45,9.7) (8.50,-3.1) (8.70,3.8) (8.76,2.8) (8.78,-0.7) (9.03,4.3) (9.15,3.1)
};
\end{axis}
\end{tikzpicture}
\end{document}
